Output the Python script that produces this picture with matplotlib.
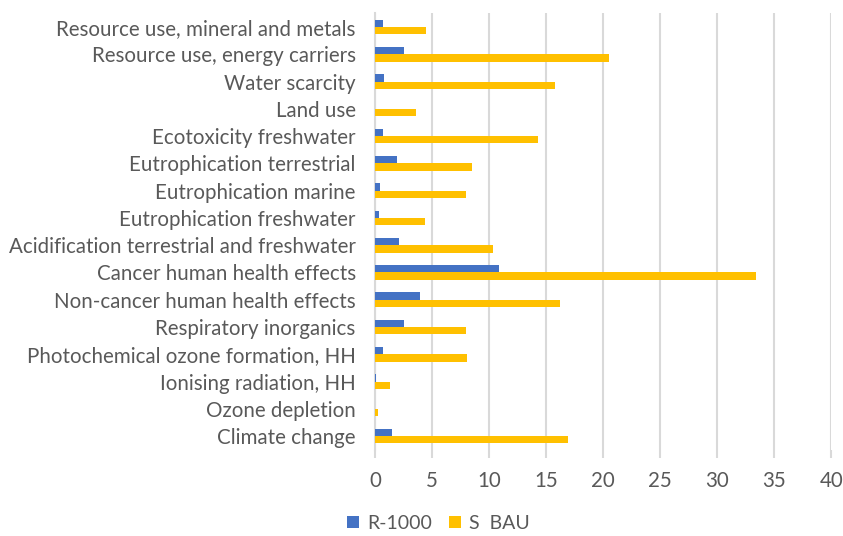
import matplotlib
matplotlib.use("Agg")
import matplotlib.pyplot as plt
import numpy as np

categories = [
    "Climate change",
    "Ozone depletion",
    "Ionising radiation, HH",
    "Photochemical ozone formation, HH",
    "Respiratory inorganics",
    "Non-cancer human health effects",
    "Cancer human health effects",
    "Acidification terrestrial and freshwater",
    "Eutrophication freshwater",
    "Eutrophication marine",
    "Eutrophication terrestrial",
    "Ecotoxicity freshwater",
    "Land use",
    "Water scarcity",
    "Resource use, energy carriers",
    "Resource use, mineral and metals",
]
r1000 = [1.5, 0.0, 0.1, 0.73, 2.5, 3.95, 10.9, 2.1, 0.3, 0.44, 1.9, 0.69, 0.0, 0.79, 2.5, 0.73]
s_bau = [16.9, 0.28, 1.33, 8.1, 7.95, 16.2, 33.4, 10.3, 4.36, 8.0, 8.52, 14.27, 3.57, 15.8, 20.55, 4.45]
xticks = [0, 5, 10, 15, 20, 25, 30, 35, 40]

plt.rcParams['font.family'] = ['Lato', 'DejaVu Sans']
fig = plt.figure(figsize=(8.43, 5.36), dpi=100)
ax = fig.add_axes([0.445, 0.161, 0.541, 0.814])

y = np.arange(len(categories))
h = 0.27
gray = "#595959"
fs = 14.8
ax.barh(y + h / 2, r1000, height=h, color="#4472C4", label="R-1000", zorder=3)
ax.barh(y - h / 2, s_bau, height=h, color="#FFC000", label="S  BAU", zorder=3)

ax.set_ylim(-0.5, len(categories) - 0.5)
ax.set_xlim(0, 40)
ax.set_xticks(xticks)
ax.set_yticks(y)
ax.set_yticklabels(categories)
ax.xaxis.grid(True, color="#d9d9d9", linewidth=1.5, zorder=0)
for s in ["top", "right", "bottom"]:
    ax.spines[s].set_visible(False)
ax.spines["left"].set_color("#d9d9d9")
ax.spines["left"].set_linewidth(1.5)
ax.tick_params(axis="y", length=0, pad=14, labelsize=fs, labelcolor=gray)
ax.tick_params(axis="x", length=6, color="#d9d9d9", width=1.5, pad=9, labelsize=fs, labelcolor=gray)

ax.legend(loc="center", bbox_to_anchor=(0.52, 0.024), bbox_transform=fig.transFigure,
          ncol=2, frameon=False, fontsize=14, labelcolor=gray,
          handlelength=0.6, handleheight=0.6, handletextpad=0.4, columnspacing=0.9)

fig.savefig("out.png", dpi=100)
